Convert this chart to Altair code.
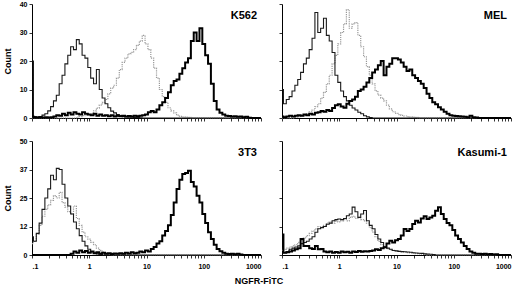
import math
import altair as alt
import pandas as pd

N = 81  # histogram channels on a log10 grid, .1 .. 1000
LOG_X = [round(-1 + 0.05 * i, 2) for i in range(N)]


def pad(v):
    return v + [0] * (N - len(v))


K562_DOT = pad([0, 0, 0, 0, 0, 0, 0, 0, 0, 0,
                0, 0, 0, 0, 0, 0, 0.3, 0.5, 0.8, 1,
                1.2, 1.5, 2.5, 3.5, 4.5, 5.5, 6.5, 8.5, 10.5, 11.5,
                14, 17, 19.5, 21, 22.5, 23, 24, 25.5, 27, 29,
                26, 24, 21, 17.5, 14, 10, 7.5, 5.5, 3.6, 2.5,
                1.8, 1, 0.6, 0.4, 0.3, 0.2])
K562_THIN = pad([20, 0.5, 0.3, 0.5, 1, 1.5, 2.5, 4, 6, 8,
                 12, 15, 19, 22, 25, 24, 27.5, 26, 22, 21,
                 17.7, 14, 12, 17, 10, 7, 5, 3.6, 2.4, 1.8,
                 1.2, 0.8, 0.5, 0.4, 0.3, 0.3, 0.2, 0.2, 0.1])
K562_THICK = pad([0.5, 0.2, 0.2, 0.3, 0.2, 0.3, 0.2, 0.3, 0.5, 1,
                  0.8, 1.5, 1, 1.8, 1.2, 2, 1.5, 1.2, 2, 1.5,
                  1.2, 1, 1.5, 0.8, 1.2, 0.8, 1, 0.6, 1, 0.5,
                  0.8, 0.6, 0.8, 0.5, 0.7, 0.5, 0.8, 0.6, 0.8, 1,
                  1.2, 2, 2.5, 2, 3, 4.5, 5.5, 7, 9, 11.5,
                  13, 13.5, 15.5, 17.5, 19.5, 21, 27, 30, 27, 31.5,
                  26, 22, 19, 12, 6, 3, 1.8, 1.2, 0.8, 0.7,
                  0.5, 0.6, 0.4, 0.5, 0.3, 0.4, 0.1])

MEL_DOT = pad([0, 0, 0, 0, 0, 0.3, 0.5, 0.8, 1, 1.5,
               2.2, 2.8, 4, 5, 7, 9, 12, 15, 19, 22,
               26, 30, 33, 38, 31.5, 33, 33.5, 29, 25, 21.5,
               18, 15, 12, 9.5, 8, 7, 6, 4.5, 3.2, 2.2,
               1.6, 1.2, 0.9, 0.7, 0.5, 0.4, 0.3, 0.2])
MEL_THIN = pad([10, 5, 6.5, 7.5, 9.5, 11.5, 13.5, 16, 19, 21,
                24, 28, 37, 30, 31.5, 35, 29, 27, 23, 15,
                12.5, 9.5, 7.5, 6, 4.5, 3.5, 2.8, 2, 1.5, 0.8,
                0.4, 0.2])
MEL_THICK = pad([0.5, 0.3, 0.5, 0.8, 0.5, 0.8, 1, 0.8, 1.2, 1,
                 1.5, 1.2, 1.8, 2, 2.5, 2.2, 2.8, 2.5, 3.5, 4.5,
                 4.8, 4, 3.6, 5, 6, 6.5, 7.5, 9.5, 10, 11,
                 12.5, 14, 16, 17, 18.5, 20, 15, 18, 19, 21,
                 21, 20.5, 19.5, 18, 16.5, 17, 15, 14, 13, 12,
                 10.5, 8.5, 7, 5.5, 4.8, 3.8, 3, 2.2, 1.5, 1,
                 0.8, 0.7, 0.6, 0.5, 0.4, 0.3, 0.8, 0.3, 0.2])

T3T3_DOT = pad([5, 6, 9, 13, 17, 20, 22, 24, 26, 25,
                27.5, 23, 21, 19, 18, 21.5, 16, 13, 10, 8,
                7, 5.5, 4.5, 3, 2, 1.3, 0.8, 0.4, 0.2])
T3T3_THIN = pad([8, 6, 9.5, 14, 20, 25, 29, 35, 33, 38,
                 37.5, 31, 25, 21.5, 18, 14.5, 11.5, 8.5, 6, 4,
                 2.5, 1.5, 0.8, 0.5, 0.3])
T3T3_THICK = pad([0, 0, 0, 0, 0, 0, 0, 0, 0, 0,
                  0, 0, 0, 0, 0.5, 1.5, 1, 2, 1.2, 1.8,
                  1, 1.5, 0.8, 1.2, 0.6, 1, 0.5, 0.8, 0.4, 0.7,
                  0.5, 0.8, 0.6, 1, 0.7, 1.2, 0.8, 1, 1.5, 1.2,
                  2, 1.5, 2.6, 3.5, 5, 6, 8.5, 10.5, 13, 17.5,
                  23, 29, 33, 35.5, 36, 37, 32, 30, 26, 23,
                  18, 14, 10, 7, 4.5, 2.6, 1.6, 1, 0.6, 0.4,
                  0.6, 0.3, 0.5, 0.2])

KAS_DOT = pad([2, 2.5, 3, 3.5, 4, 4.5, 5.5, 6.5, 7.5, 8.5,
               9.5, 10.5, 11.5, 12.5, 12.5, 13, 14, 14.5, 14, 15,
               14.5, 15, 15.5, 15, 16.5, 17, 16, 16.5, 15.5, 15,
               14, 12, 10, 8, 6, 4.5, 3.5, 2.8, 2.4, 2,
               1.8, 1.6, 1.4, 1.2, 1, 0.9, 0.8, 0.6, 0.5, 0.4,
               0.3])
KAS_THIN = pad([3, 1, 1.5, 2.5, 3, 3.5, 4, 5, 5.5, 6,
                7, 8, 10, 11.5, 12, 12.5, 13.5, 14, 15, 15.5,
                15.8, 15.5, 16, 17.2, 18, 21, 19, 16.5, 18, 19.5,
                15, 13, 11.5, 9, 7, 5.5, 3.5, 3, 2.5, 2,
                1.8, 1.6, 1.5, 1.4, 1.3, 1.2, 1, 0.9, 0.8, 0.7,
                0.5, 0.4, 0.3, 0.2])
KAS_THICK = pad([9, 1, 1.2, 1.5, 2, 2.5, 3, 7, 4, 4,
                 3, 2.6, 4, 2.5, 2.6, 1.5, 1.2, 1.5, 1, 1.3,
                 1, 1.5, 1.2, 1.4, 1, 1.5, 1.3, 1.8, 1.4, 1.6,
                 1.5, 1.8, 2, 2.5, 2.2, 3, 3.4, 5, 6.3, 5.5,
                 6.5, 7, 8.5, 11.4, 10.5, 11.4, 13.6, 15, 14.3, 16,
                 17, 15.8, 16.5, 17.2, 19.4, 20.9, 18, 15.8, 14, 13,
                 11, 8.5, 7, 5.5, 4, 2.6, 1.5, 1, 0.6, 0.5,
                 0.4, 0.5, 0.3, 0.4, 0.2, 0.3])

NAMES = ["K562", "MEL", "3T3", "Kasumi-1"]
TOP_TICKS = [0, 10, 20, 30, 40]
BOTTOM_TICKS = [0, 12.5, 25, 37.5, 50]
X_TICKS = [d + math.log10(m) for d in range(-1, 3) for m in range(1, 10)] + [3]
X_LABEL_EXPR = ("datum.value == -1 ? '.1' : datum.value == 0 ? '1' : "
                "datum.value == 1 ? '10' : datum.value == 2 ? '100' : "
                "datum.value == 3 ? '1000' : ''")

FONT = "Liberation Sans"
W, H = 229, 114

STYLES = {
    "dot": dict(color="#999999", strokeWidth=1.2, strokeDash=[1.2, 1.0]),
    "thin": dict(color="#1a1a1a", strokeWidth=1.1),
    "thick": dict(color="#000000", strokeWidth=2.0),
}


def panel(name, dot, thin, thick, ymax, yticks, ylabels, xlabels):
    rows = []
    for curve, vals in (("dot", dot), ("thin", thin), ("thick", thick)):
        for x, c in zip(LOG_X, vals):
            rows.append({"curve": curve, "x": x, "count": c})
    df = pd.DataFrame(rows)
    xaxis = alt.Axis(values=X_TICKS, labels=xlabels, labelExpr=X_LABEL_EXPR,
                     title=None, grid=False, tickSize=3, labelPadding=4)
    if ylabels:
        yaxis = alt.Axis(values=yticks, labelExpr="floor(datum.value)", title="Count",
                         grid=False, tickSize=3, labelPadding=2, titlePadding=7)
    else:
        yaxis = alt.Axis(values=yticks, labels=False, title=None, grid=False, tickSize=3)
    layers = []
    for curve, vals in (("dot", dot), ("thin", thin), ("thick", thick)):
        layers.append(
            alt.Chart(df).transform_filter(alt.datum.curve == curve)
            .mark_line(interpolate="step", **STYLES[curve])
            .encode(
                x=alt.X("x:Q", scale=alt.Scale(domain=[-1, 3], nice=False, zero=False), axis=xaxis),
                y=alt.Y("count:Q", scale=alt.Scale(domain=[0, ymax], nice=False), axis=yaxis),
            )
        )
    label = alt.Chart(pd.DataFrame({"name": [name]})).mark_text(
        align="right", baseline="middle", fontSize=11, fontWeight="bold", font=FONT, color="black"
    ).encode(x=alt.value(W - 4), y=alt.value(12), text="name:N")
    return alt.layer(*layers, label).properties(width=W, height=H)


tl = panel(NAMES[0], K562_DOT, K562_THIN, K562_THICK, 40, TOP_TICKS, True, False)
tr = panel(NAMES[1], MEL_DOT, MEL_THIN, MEL_THICK, 40, TOP_TICKS, False, False)
bl = panel(NAMES[2], T3T3_DOT, T3T3_THIN, T3T3_THICK, 50, BOTTOM_TICKS, True, True)
br = panel(NAMES[3], KAS_DOT, KAS_THIN, KAS_THICK, 50, BOTTOM_TICKS, False, True)

chart = alt.concat(tl, tr, bl, br, columns=2, spacing={"row": 23, "column": 21}, bounds="flush").properties(
    title=alt.TitleParams("NGFR-FiTC", orient="bottom", anchor="middle", fontSize=9,
                          fontWeight="bold", font=FONT, offset=8, color="black"),
    padding={"left": 3, "top": 0, "right": 0, "bottom": 0},
).configure_view(stroke=None).configure_axis(
    domainColor="black", tickColor="black", labelColor="black", titleColor="black",
    labelFont=FONT, labelFontWeight="bold", labelFontSize=7,
    titleFont=FONT, titleFontWeight="bold", titleFontSize=9,
    domainWidth=1, tickWidth=0.8,
)

chart.save("out.html", embed_options={"renderer": "svg", "actions": False})
